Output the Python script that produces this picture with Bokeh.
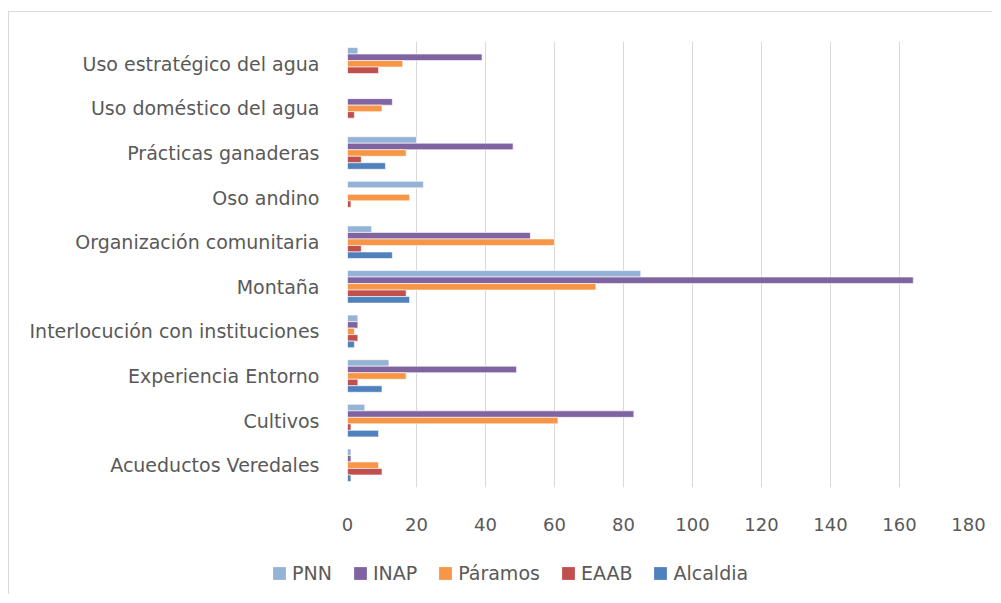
from bokeh.plotting import figure
from bokeh.models import FactorRange, Range1d, FixedTicker, Legend, LegendItem
from bokeh.transform import dodge
from bokeh.embed import file_html
from bokeh.resources import INLINE

categories = ["Acueductos Veredales", "Cultivos", "Experiencia Entorno",
              "Interlocución con instituciones", "Montaña", "Organización comunitaria",
              "Oso andino", "Prácticas ganaderas", "Uso doméstico del agua",
              "Uso estratégico del agua"]
series = ["PNN", "INAP", "Páramos", "EAAB", "Alcaldia"]
pnn = [1, 5, 12, 3, 85, 7, 22, 20, 0, 3]
inap = [1, 83, 49, 3, 164, 53, 0, 48, 13, 39]
paramos = [9, 61, 17, 2, 72, 60, 18, 17, 10, 16]
eaab = [10, 1, 3, 3, 17, 4, 1, 4, 2, 9]
alcaldia = [1, 9, 10, 2, 18, 13, 0, 11, 0, 0]
x_ticks = [0, 20, 40, 60, 80, 100, 120, 140, 160, 180]

colors = ["#95B3D7", "#8064A2", "#F79646", "#C0504D", "#4F81BD"]
values = [pnn, inap, paramos, eaab, alcaldia]
offsets = [0.292, 0.146, 0.0, -0.146, -0.292]

FONT = "DejaVu Sans"
TXT = "#595959"
BORDER = "1px solid #d9d9d9"

p = figure(width=984, height=534, y_range=FactorRange(factors=categories),
           x_range=Range1d(0, 180), output_backend="svg", toolbar_location=None,
           min_border_left=338, min_border_right=25, min_border_top=29,
           min_border_bottom=59)
p.styles = {"border-left": BORDER, "border-top": BORDER,
            "margin-left": "8px", "margin-top": "11px"}

data = {"cat": categories}
for s, v in zip(series, values):
    data[s] = v

for s, c, off in zip(series, colors, offsets):
    p.hbar(y=dodge("cat", off, range=p.y_range), right=s, left=0, height=0.146,
           source=data, fill_color=c, line_color="white", line_width=0.6)

p.outline_line_color = None
p.ygrid.grid_line_color = None
p.xgrid.grid_line_color = "#d9d9d9"
p.xgrid.grid_line_width = 1
p.xaxis.ticker = FixedTicker(ticks=x_ticks)
for ax in (p.xaxis, p.yaxis):
    ax.axis_line_color = None
    ax.major_tick_line_color = None
    ax.minor_tick_line_color = None
    ax.major_label_text_font = FONT
    ax.major_label_text_color = TXT
p.yaxis.major_label_text_font_size = "19px"
p.xaxis.major_label_text_font_size = "18px"
p.xaxis.major_label_standoff = 24
p.yaxis.major_label_standoff = 22

# legend strip (separate root so its frame is not aligned with the chart frame)
p2 = figure(width=984, height=49, x_range=Range1d(0, 1), y_range=Range1d(0, 1),
            output_backend="svg", toolbar_location=None, min_border=0)
p2.styles = {"border-left": BORDER, "margin-left": "8px"}
p2.xaxis.visible = False
p2.yaxis.visible = False
p2.grid.visible = False
p2.outline_line_color = None
items = []
for s, c in zip(series, colors):
    r = p2.hbar(y=[5], right=[0], left=0, height=0.5, fill_color=c, line_color=None)
    items.append(LegendItem(label=s, renderers=[r]))
legend = Legend(items=items, orientation="horizontal", location=(262, 10))
legend.label_text_font = FONT
legend.label_text_font_size = "19px"
legend.label_text_color = TXT
legend.glyph_width = 16
legend.glyph_height = 16
legend.label_standoff = 5
legend.spacing = 20
legend.padding = 0
legend.margin = 0
legend.border_line_color = None
legend.background_fill_alpha = 0
p2.add_layout(legend, "center")

open("out.html", "w").write(file_html([p, p2], INLINE))
